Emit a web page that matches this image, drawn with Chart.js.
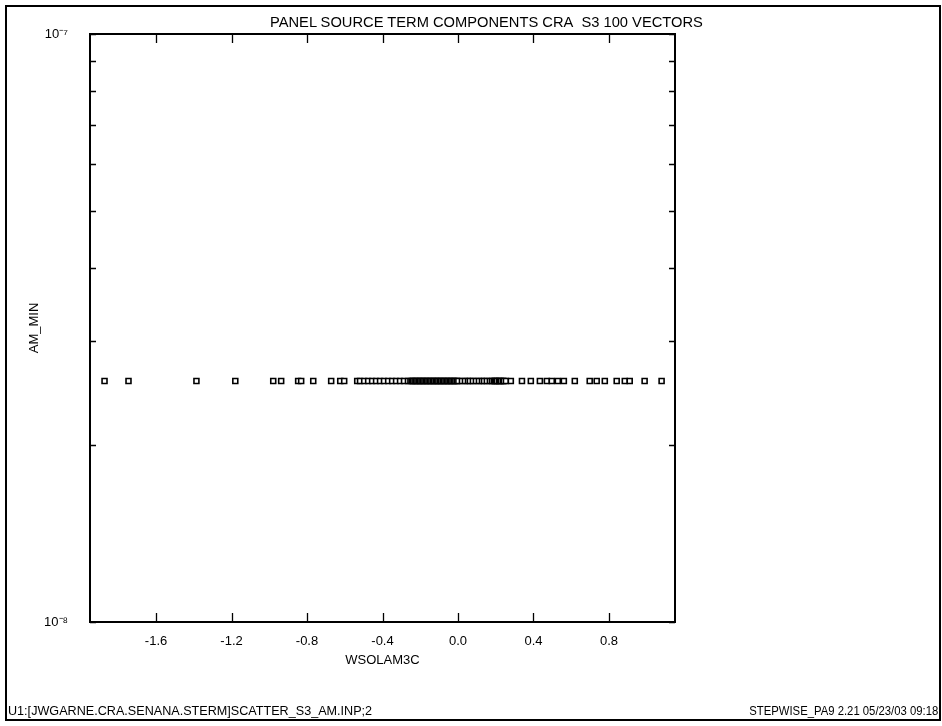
<!DOCTYPE html>
<html lang="en">
<head>
  <meta charset="utf-8">
  <title>Panel source term components CRA S3</title>
  <script src="https://cdn.jsdelivr.net/npm/chart.js"></script>
  <style>
    body { margin: 0; background: #fff; font-family: "Liberation Sans", Arial, sans-serif; }
    #wrap { position: relative; width: 942px; height: 726px; }
    #frame { position: absolute; left: 5px; top: 5px; width: 932px; height: 712px; border: 2px solid #000; }
    .txt { position: absolute; color: #000; line-height: 1; white-space: nowrap; }
    #title { left: 270px; top: 15px; font-size: 14.7px; }
    #footLeft { left: 8px; top: 704px; font-size: 13px; transform: scaleX(0.97); transform-origin: left; }
    #footRight { right: 4px; top: 704px; font-size: 13px; transform: scaleX(0.87); transform-origin: right; }
  </style>
</head>
<body>
<div id="wrap">
  <canvas id="scatter" width="942" height="726"></canvas>
  <div id="frame"></div>
  <div id="title" class="txt">PANEL SOURCE TERM COMPONENTS CRA&nbsp; S3 100 VECTORS</div>
  <div id="footLeft" class="txt">U1:[JWGARNE.CRA.SENANA.STERM]SCATTER_S3_AM.INP;2</div>
  <div id="footRight" class="txt">STEPWISE_PA9 2.21 05/23/03 09:18</div>
</div>

<script>
  // values (100 vectors)
  const wsolam3c = [
    -1.873, -1.746, -1.386, -1.180, -0.979, -0.937, -0.847, -0.831, -0.767, -0.672,
    -0.624, -0.603, -0.534,
    -0.519, -0.497, -0.476, -0.455, -0.434, -0.413, -0.392, -0.370, -0.349, -0.328,
    -0.307, -0.286, -0.265,
    -0.252, -0.245, -0.238, -0.230, -0.223, -0.215, -0.208, -0.200, -0.193, -0.186,
    -0.178, -0.171, -0.163, -0.156, -0.148, -0.141, -0.133, -0.126, -0.118, -0.111,
    -0.104, -0.096, -0.089, -0.081, -0.074, -0.066, -0.059, -0.051, -0.044, -0.036,
    -0.029, -0.021, -0.014, -0.006, 0.002,
    0.021, 0.037, 0.053, 0.063, 0.079, 0.095, 0.111, 0.127, 0.138, 0.153, 0.169, 0.180,
    0.190, 0.196, 0.201, 0.206, 0.217, 0.222, 0.228, 0.238, 0.243, 0.254,
    0.280, 0.339, 0.386, 0.434, 0.471, 0.497, 0.529, 0.561, 0.619, 0.698,
    0.735, 0.778, 0.841, 0.884, 0.910, 0.989, 1.079
  ];
  const amMinValue = 2.57e-8; // every vector sits on the same AM_MIN value

  const xTicks = [-1.6, -1.2, -0.8, -0.4, 0.0, 0.4, 0.8];
  const yTicks = [1e-8, 2e-8, 3e-8, 4e-8, 5e-8, 6e-8, 7e-8, 8e-8, 9e-8, 1e-7];
  const xRange = [-1.95, 1.15];
  const yRange = [1e-8, 1e-7];

  const points = wsolam3c.map(v => ({ x: v, y: amMinValue }));

  // plot box + inward tick marks on all four sides
  const frameTicks = {
    id: 'frameTicks',
    afterDraw(chart) {
      const { ctx, chartArea: a, scales: { x, y } } = chart;
      ctx.save();
      ctx.strokeStyle = '#000';
      ctx.lineWidth = 1.3;
      ctx.beginPath();
      x.ticks.forEach(t => {
        const px = Math.round(x.getPixelForValue(t.value)) + 0.5;
        ctx.moveTo(px, a.bottom); ctx.lineTo(px, a.bottom - 9);
        ctx.moveTo(px, a.top); ctx.lineTo(px, a.top + 9);
      });
      y.ticks.forEach(t => {
        const py = Math.round(y.getPixelForValue(t.value)) + 0.5;
        ctx.moveTo(a.left, py); ctx.lineTo(a.left + 6, py);
        ctx.moveTo(a.right, py); ctx.lineTo(a.right - 6, py);
      });
      ctx.stroke();
      ctx.lineWidth = 2;
      ctx.strokeRect(a.left, a.top, a.right - a.left, a.bottom - a.top);
      ctx.restore();
    }
  };

  const font = { family: '"Liberation Sans", Arial, sans-serif', size: 13 };

  new Chart(document.getElementById('scatter'), {
    type: 'scatter',
    data: {
      datasets: [{
        data: points,
        pointStyle: 'rect',
        pointRadius: 3.5,
        pointBorderWidth: 1.6,
        borderColor: '#000',
        backgroundColor: '#fff'
      }]
    },
    options: {
      responsive: false,
      animation: false,
      devicePixelRatio: 1,
      layout: { padding: { left: 0, top: 34, right: 267, bottom: 44 } },
      plugins: { legend: { display: false }, tooltip: { enabled: false } },
      scales: {
        x: {
          type: 'linear',
          min: xRange[0],
          max: xRange[1],
          grid: { display: false, drawTicks: false },
          border: { display: false },
          afterBuildTicks: s => { s.ticks = xTicks.map(v => ({ value: v })); },
          afterFit: s => { s.height = 60; },
          ticks: {
            color: '#000', font, padding: 12, maxRotation: 0,
            callback: v => v.toFixed(1)
          },
          title: { display: true, text: 'WSOLAM3C', color: '#000', font, padding: { top: 0, bottom: 14 } }
        },
        y: {
          type: 'logarithmic',
          min: yRange[0],
          max: yRange[1],
          grid: { display: false, drawTicks: false },
          border: { display: false },
          afterBuildTicks: s => { s.ticks = yTicks.map(v => ({ value: v })); },
          afterFit: s => { s.width = 90; },
          ticks: {
            color: '#000', font, padding: 22, autoSkip: false,
            callback: v => {
              if (Math.abs(Math.log10(v) + 7) < 1e-6) return '10\u207B\u2077';
              if (Math.abs(Math.log10(v) + 8) < 1e-6) return '10\u207B\u2078';
              return '';
            }
          },
          title: { display: true, text: 'AM_MIN', color: '#000', font, padding: { top: 27, bottom: 0 } }
        }
      }
    },
    plugins: [frameTicks]
  });
</script>
</body>
</html>
